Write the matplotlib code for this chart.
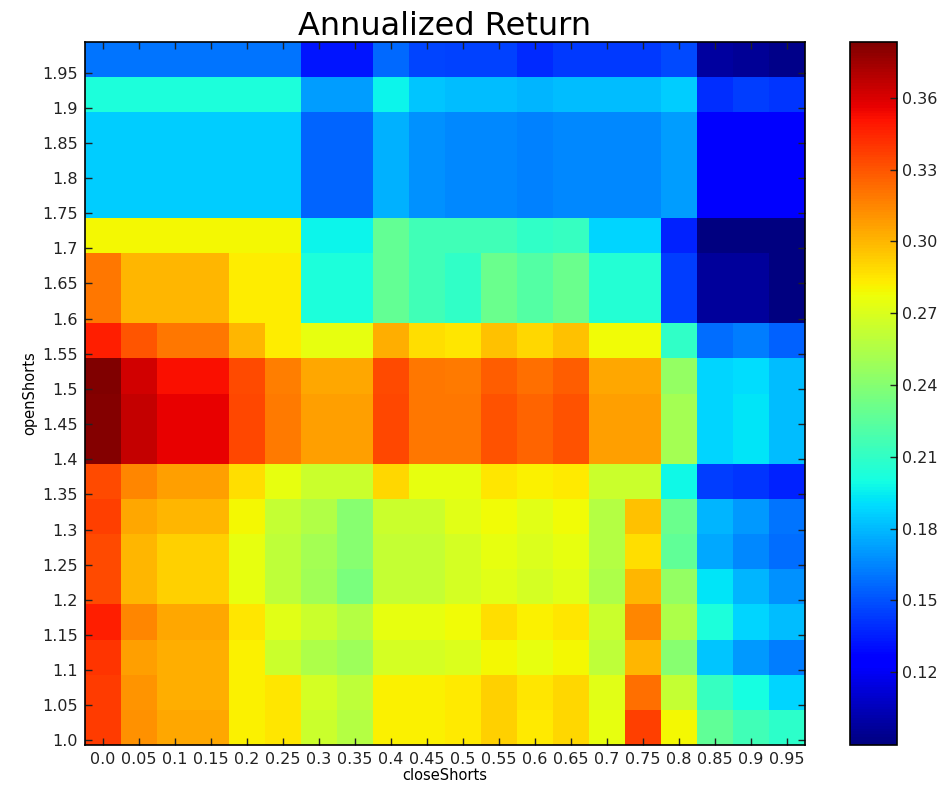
import numpy as np
import matplotlib
matplotlib.use("Agg")
import matplotlib.pyplot as plt
from matplotlib.colors import Normalize

close_shorts = ["0.0", "0.05", "0.1", "0.15", "0.2", "0.25", "0.3", "0.35", "0.4", "0.45",
                "0.5", "0.55", "0.6", "0.65", "0.7", "0.75", "0.8", "0.85", "0.9", "0.95"]
open_shorts = ["1.0", "1.05", "1.1", "1.15", "1.2", "1.25", "1.3", "1.35", "1.4", "1.45",
               "1.5", "1.55", "1.6", "1.65", "1.7", "1.75", "1.8", "1.85", "1.9", "1.95"]

# annualized return, rows listed from openShorts 1.95 (top) down to 1.0 (bottom)
returns_top_down = [
    [0.16, 0.16, 0.16, 0.16, 0.16, 0.16, 0.133, 0.133, 0.157, 0.146, 0.145, 0.145, 0.138, 0.143, 0.143, 0.143, 0.147, 0.098, 0.096, 0.092],
    [0.203, 0.203, 0.203, 0.203, 0.203, 0.203, 0.172, 0.172, 0.197, 0.183, 0.181, 0.181, 0.179, 0.181, 0.181, 0.181, 0.185, 0.14, 0.144, 0.142],
    [0.185, 0.185, 0.185, 0.185, 0.185, 0.185, 0.156, 0.156, 0.177, 0.168, 0.166, 0.166, 0.163, 0.166, 0.166, 0.166, 0.172, 0.122, 0.122, 0.122],
    [0.185, 0.185, 0.185, 0.185, 0.185, 0.185, 0.156, 0.156, 0.177, 0.168, 0.166, 0.166, 0.163, 0.166, 0.166, 0.166, 0.172, 0.122, 0.122, 0.122],
    [0.185, 0.185, 0.185, 0.185, 0.185, 0.185, 0.156, 0.156, 0.177, 0.168, 0.166, 0.166, 0.163, 0.166, 0.166, 0.166, 0.172, 0.122, 0.122, 0.122],
    [0.28, 0.28, 0.28, 0.28, 0.28, 0.28, 0.197, 0.197, 0.228, 0.215, 0.215, 0.215, 0.21, 0.212, 0.188, 0.188, 0.136, 0.09, 0.09, 0.09],
    [0.32, 0.3, 0.3, 0.3, 0.283, 0.283, 0.203, 0.203, 0.228, 0.215, 0.21, 0.23, 0.222, 0.23, 0.205, 0.205, 0.144, 0.097, 0.097, 0.09],
    [0.32, 0.3, 0.3, 0.3, 0.283, 0.283, 0.203, 0.203, 0.228, 0.215, 0.21, 0.23, 0.222, 0.23, 0.205, 0.205, 0.144, 0.097, 0.097, 0.09],
    [0.347, 0.33, 0.32, 0.32, 0.3, 0.283, 0.275, 0.275, 0.302, 0.287, 0.285, 0.297, 0.29, 0.297, 0.278, 0.278, 0.21, 0.158, 0.162, 0.154],
    [0.383, 0.362, 0.352, 0.352, 0.333, 0.317, 0.305, 0.305, 0.333, 0.32, 0.318, 0.328, 0.322, 0.328, 0.305, 0.305, 0.245, 0.188, 0.19, 0.181],
    [0.382, 0.366, 0.356, 0.356, 0.335, 0.318, 0.307, 0.307, 0.335, 0.32, 0.32, 0.331, 0.325, 0.331, 0.307, 0.307, 0.251, 0.188, 0.192, 0.181],
    [0.382, 0.366, 0.356, 0.356, 0.335, 0.318, 0.307, 0.307, 0.335, 0.32, 0.32, 0.331, 0.325, 0.331, 0.307, 0.307, 0.251, 0.188, 0.192, 0.181],
    [0.334, 0.315, 0.307, 0.307, 0.287, 0.275, 0.265, 0.265, 0.29, 0.275, 0.275, 0.285, 0.282, 0.284, 0.265, 0.265, 0.198, 0.144, 0.142, 0.136],
    [0.337, 0.305, 0.3, 0.3, 0.28, 0.262, 0.255, 0.24, 0.265, 0.265, 0.273, 0.278, 0.273, 0.278, 0.256, 0.297, 0.23, 0.179, 0.17, 0.16],
    [0.334, 0.3, 0.292, 0.292, 0.275, 0.26, 0.251, 0.24, 0.262, 0.262, 0.268, 0.275, 0.27, 0.275, 0.256, 0.287, 0.227, 0.175, 0.166, 0.158],
    [0.334, 0.3, 0.292, 0.292, 0.275, 0.26, 0.25, 0.236, 0.262, 0.262, 0.268, 0.273, 0.268, 0.273, 0.254, 0.3, 0.245, 0.192, 0.179, 0.168],
    [0.347, 0.315, 0.305, 0.305, 0.285, 0.273, 0.265, 0.256, 0.275, 0.275, 0.278, 0.287, 0.282, 0.285, 0.265, 0.315, 0.254, 0.203, 0.188, 0.181],
    [0.34, 0.307, 0.302, 0.302, 0.282, 0.265, 0.254, 0.248, 0.268, 0.268, 0.27, 0.28, 0.275, 0.28, 0.26, 0.3, 0.24, 0.183, 0.17, 0.162],
    [0.338, 0.31, 0.302, 0.302, 0.282, 0.285, 0.268, 0.26, 0.282, 0.282, 0.284, 0.292, 0.285, 0.29, 0.273, 0.322, 0.262, 0.212, 0.2, 0.188],
    [0.338, 0.312, 0.305, 0.305, 0.282, 0.285, 0.265, 0.256, 0.282, 0.282, 0.284, 0.292, 0.284, 0.29, 0.275, 0.337, 0.28, 0.227, 0.215, 0.208],
]
cbar_ticks = [0.12, 0.15, 0.18, 0.21, 0.24, 0.27, 0.30, 0.33, 0.36]

grid = np.array(returns_top_down)[::-1]  # bottom row = openShorts 1.0

W, H = 948, 785
fig = plt.figure(figsize=(W / 100, H / 100), dpi=100)
ax = fig.add_axes([85 / W, (H - 745) / H, 720 / W, 703 / H])
cax = fig.add_axes([850 / W, (H - 745) / H, 47 / W, 703 / H])

norm = Normalize(vmin=0.0895, vmax=0.3834)
mesh = ax.pcolormesh(np.arange(21), np.arange(21), grid, cmap="jet", norm=norm)
ax.set_xlim(0, 20)
ax.set_ylim(0, 20)

ax.set_xticks(np.arange(20) + 0.5)
ax.set_xticklabels(close_shorts, fontsize=11.5)
ax.set_yticks(np.arange(20) + 0.13)
ax.set_yticklabels(open_shorts, fontsize=11.5)
ax.tick_params(direction="in", top=True, right=True, length=5, width=1, pad=5, colors="#222222")
for s in ax.spines.values():
    s.set_linewidth(1.2)

ax.set_title("Annualized Return", fontsize=23, pad=5)
ax.set_xlabel("closeShorts", fontsize=10.5, labelpad=1)
ax.set_ylabel("openShorts", fontsize=10.5, labelpad=4)

cb = fig.colorbar(mesh, cax=cax, ticks=cbar_ticks)
cb.ax.set_yticklabels(["%.2f" % t for t in cbar_ticks], fontsize=11.5)
cb.ax.tick_params(direction="in", length=5, width=1, colors="#222222")
cb.outline.set_linewidth(1.2)

fig.savefig("out.png", dpi=100)
